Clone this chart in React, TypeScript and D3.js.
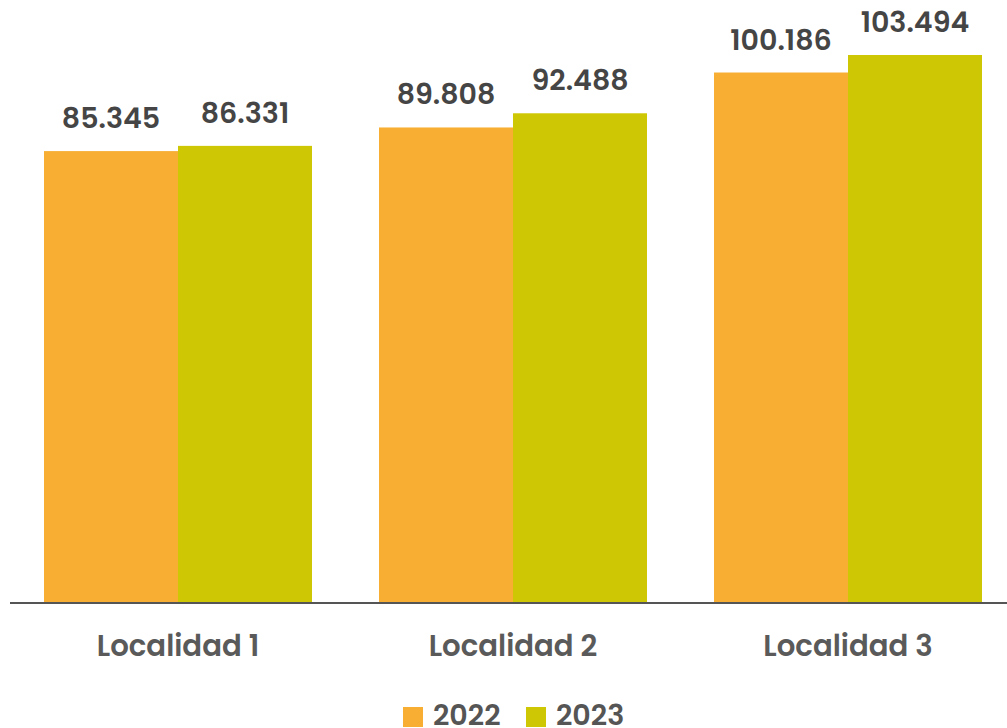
import React from "react";
import * as d3 from "d3";

const categories = ["Localidad 1", "Localidad 2", "Localidad 3"];
const seriesNames = ["2022", "2023"];
const values2022 = [85.345, 89.808, 100.186];
const values2023 = [86.331, 92.488, 103.494];
const colors = ["#F7AE32", "#CEC804"];

const W = 1007;
const H = 728;
const baseY = 603;

export default function App() {
  const x = d3.scaleBand<string>().domain(categories).range([10.5, 1015.5]).paddingInner(0.2).paddingOuter(0.1);
  const xi = d3.scaleBand<string>().domain(seriesNames).range([0, x.bandwidth()]);
  const y = d3.scaleLinear().domain([0, 103.494]).range([baseY, 55]);
  const fmt = (v: number) => v.toFixed(3);
  const series = [values2022, values2023];
  const font = "Poppins, 'Open Sans', sans-serif";

  return (
    <svg width={W} height={H} style={{ position: "absolute", left: 0, top: 0 }}>
      <rect width={W} height={H} fill="#fff" />
      {categories.map((c, i) => (
        <g key={c} transform={`translate(${x(c)},0)`}>
          {series.map((vals, s) => (
            <g key={s}>
              <rect x={xi(seriesNames[s])} y={y(vals[i])} width={xi.bandwidth()} height={baseY - y(vals[i])} fill={colors[s]} />
              <text
                x={(xi(seriesNames[s]) as number) + xi.bandwidth() / 2}
                y={y(vals[i]) - 23}
                textAnchor="middle"
                fontFamily={font}
                fontWeight={600}
                fontSize={28.5}
                fill="#454545"
              >
                {fmt(vals[i])}
              </text>
            </g>
          ))}
          <text x={x.bandwidth() / 2} y={656} textAnchor="middle" fontFamily={font} fontWeight={600} fontSize={29.2} fill="#5a5a5a">
            {c}
          </text>
        </g>
      ))}
      <line x1={10} x2={W} y1={baseY} y2={baseY} stroke="#555" strokeWidth={2} />
      {seriesNames.map((n, s) => (
        <g key={n} transform={`translate(${403 + s * 123},0)`}>
          <rect x={0} y={707} width={20} height={20} fill={colors[s]} />
          <text x={30} y={725} fontFamily={font} fontWeight={600} fontSize={28.5} fill="#555">
            {n}
          </text>
        </g>
      ))}
    </svg>
  );
}
